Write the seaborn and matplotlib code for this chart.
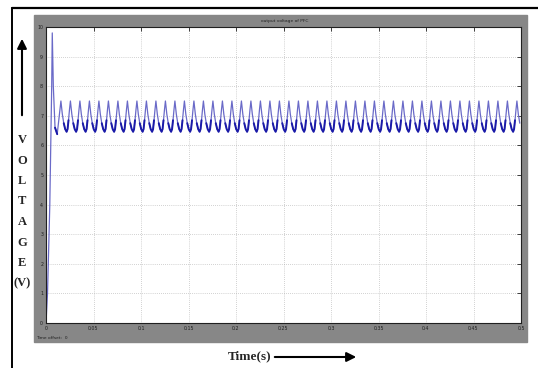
import numpy as np
import pandas as pd
import matplotlib
matplotlib.use("Agg")
import matplotlib.pyplot as plt
import seaborn as sns
from matplotlib.patches import Rectangle, FancyArrowPatch
from matplotlib.lines import Line2D

# start-up transient (time s, volts)
start_t = [0.0, 0.0016, 0.0024, 0.004, 0.006, 0.0066, 0.0077, 0.0095, 0.0118]
start_v = [0.0, 1.0, 2.0, 4.0, 8.0, 9.8, 8.0, 6.6, 6.38]

# one 100 Hz ripple cycle, offsets from each peak
cycle_t = [0.0, 0.0015, 0.003, 0.0045, 0.006, 0.007, 0.008, 0.009]
cycle_v = [7.5, 7.05, 6.75, 6.55, 6.46, 6.55, 6.85, 7.2]
first_peak = 0.0157
period = 0.01
t_end = 0.5

x_ticks = [0, 0.05, 0.1, 0.15, 0.2, 0.25, 0.3, 0.35, 0.4, 0.45, 0.5]
x_labels = ["0", "0.05", "0.1", "0.15", "0.2", "0.25", "0.3", "0.35", "0.4", "0.45", "0.5"]
y_ticks = list(range(0, 11))
ylabel_letters = ["V", "O", "L", "T", "A", "G", "E", "(V)"]

# assemble the trace
t_list, v_list = list(start_t), list(start_v)
k = 0
while first_peak + k * period <= t_end:
    base = first_peak + k * period
    for dt, v in zip(cycle_t, cycle_v):
        if base + dt <= t_end:
            t_list.append(base + dt)
            v_list.append(v)
    k += 1
df = pd.DataFrame({"t": t_list, "v": v_list})

# dense switching-ripple band at the bottom of each cycle
low = (df["v"] < 6.9) & (df["t"] > 0.009)
df_low = df[low].copy()
df_low["seg"] = (df_low.index.to_series().diff() != 1).cumsum()

W, H = 538, 368
sns.set_style("white")
plt.rcParams["font.family"] = ["DejaVu Sans"]
fig = plt.figure(figsize=(W / 100, H / 100), dpi=100)
fig.patch.set_facecolor("white")

# outer frame (top and left)
fig.add_artist(Line2D([12 / W, 1.0], [1 - 8 / H, 1 - 8 / H], color="black", lw=1.6))
fig.add_artist(Line2D([12 / W, 12 / W], [0, 1 - 8 / H], color="black", lw=1.4))

# gray scope panel
panel = Rectangle((34 / W, 1 - 342 / H), 493 / W, 327 / H,
                  transform=fig.transFigure, color="#878787", zorder=-5)
fig.patches.append(panel)

ax = fig.add_axes([46 / W, 1 - 323 / H, 475 / W, 296 / H])
ax.set_zorder(3)
ax.set_facecolor("white")

sns.lineplot(data=df, x="t", y="v", ax=ax, color="#6a6ac8", lw=0.9,
             estimator=None, sort=False)
sns.lineplot(data=df_low, x="t", y="v", units="seg", ax=ax, color="#1a1aa8",
             lw=1.4, estimator=None, sort=False)

ax.set_xlim(0, 0.5)
ax.set_ylim(0, 10)
ax.set_xticks(x_ticks)
ax.set_xticklabels(x_labels)
ax.set_yticks(y_ticks)
ax.set_xlabel("")
ax.set_ylabel("")
ax.grid(True, linestyle=(0, (1, 2)), color="#a8a8a8", lw=0.5)
ax.set_axisbelow(True)
ax.tick_params(direction="in", length=3, width=0.6, labelsize=3.4, pad=2,
               top=True, right=True, colors="#202020")
for sp in ax.spines.values():
    sp.set_color("#202020")
    sp.set_linewidth(0.8)

fig.text(285 / W, 1 - 21 / H, "output voltage of PFC", fontsize=3.2,
         ha="center", va="center", color="#202020")
fig.text(36 / W, 1 - 338 / H, "Time offset:  0", fontsize=3.2,
         ha="left", va="center", color="#202020")

# stacked y label with arrow
ys = [140, 161, 181, 201, 222, 243, 263, 283]
for letter, y in zip(ylabel_letters, ys):
    fig.text(22 / W, 1 - y / H, letter, fontsize=9, fontweight="bold",
             family="Liberation Serif", ha="center", va="center")
fig.add_artist(FancyArrowPatch(
    (22 / W, 1 - 118 / H), (22 / W, 1 - 36 / H), transform=fig.transFigure,
    arrowstyle="-|>", mutation_scale=14, color="black", lw=1.5))

fig.text(250 / W, 1 - 356 / H, "Time(s)", fontsize=9.5, fontweight="bold",
         family="Liberation Serif", ha="center", va="center")
fig.add_artist(FancyArrowPatch(
    (272 / W, 1 - 357 / H), (359 / W, 1 - 357 / H), transform=fig.transFigure,
    arrowstyle="-|>", mutation_scale=14, color="black", lw=1.5))

fig.savefig("out.png", dpi=100)
